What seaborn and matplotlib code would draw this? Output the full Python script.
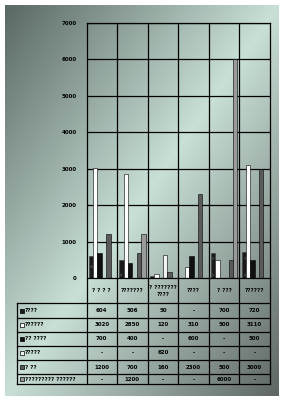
import numpy as np
import pandas as pd
import matplotlib
matplotlib.use("Agg")
import matplotlib.pyplot as plt
import seaborn as sns

# ---- data ----
categories = ["? ? ? ?", "???????", "? ???????\n????", "????", "? ???", "??????"]
series_names = ["????", "??????", "?? ????", "?????", "? ??", "????????? ??????"]
s1 = [604, 506, 50, np.nan, 700, 720]
s2 = [3020, 2850, 120, 310, 500, 3110]
s3 = [700, 400, np.nan, 600, np.nan, 500]
s4 = [np.nan, np.nan, 620, np.nan, np.nan, np.nan]
s5 = [1200, 700, 160, 2300, 500, 3000]
s6 = [np.nan, 1200, np.nan, np.nan, 6000, np.nan]
series_values = [s1, s2, s3, s4, s5, s6]
y_ticks = [0, 1000, 2000, 3000, 4000, 5000, 6000, 7000]

colors = ["#1a1a1a", "#ffffff", "#101010", "#f2f2f2", "#5a5a5a", "#9a9a9a"]

rows = []
for name, vals in zip(series_names, series_values):
    for c, v in zip(categories, vals):
        rows.append({"cat": c, "series": name, "val": v})
df = pd.DataFrame(rows)

W, H = 285, 401
fig = plt.figure(figsize=(W / 100, H / 100), dpi=100)

def fx(x):
    return x / W

def fy(y):
    return 1 - y / H

# ---- background ----
bg = fig.add_axes([0, 0, 1, 1])
bg.set_xlim(0, W)
bg.set_ylim(H, 0)
bg.axis("off")
X0, X1, Y0, Y1 = 5, 279, 5, 396
xx, yy = np.meshgrid(np.linspace(0, 1, 200), np.linspace(0, 1, 280))
t = (xx + yy) / 2
c0 = np.array([90, 104, 99]) / 255
c1 = np.array([200, 224, 214]) / 255
c2 = np.array([94, 102, 99]) / 255
tt = t[..., None]
img = np.where(tt < 0.5, c0 + (c1 - c0) * (tt / 0.5), c1 + (c2 - c1) * ((tt - 0.5) / 0.5))
bg.imshow(img, extent=[X0, X1, Y1, Y0], aspect="auto", interpolation="bilinear")

# ---- main chart ----
L, R, T, B = 86.5, 270, 23, 278
ax = fig.add_axes([fx(L), fy(B), fx(R) - fx(L), fy(T) - fy(B)])
ax.patch.set_alpha(0)
sns.barplot(data=df, x="cat", y="val", hue="series", order=categories,
            hue_order=series_names, palette=colors, saturation=1, width=0.86, gap=0,
            edgecolor="black", linewidth=0.4, errorbar=None, legend=False, ax=ax)
for p in ax.patches:
    if np.allclose(p.get_facecolor()[:3], matplotlib.colors.to_rgb(colors[0])):
        p.set_hatch("..")
        p.set_edgecolor("#3c3c3c")
ax.set_xlim(-0.5, len(categories) - 0.5)
ax.set_ylim(0, 7000)
ax.set_yticks(y_ticks)
ax.set_yticklabels([str(v) for v in y_ticks], fontsize=4, fontweight="bold")
ax.tick_params(axis="y", length=0, pad=7)
ax.set_xticks([])
ax.set_xlabel("")
ax.set_ylabel("")
ax.set_axisbelow(True)
for v in y_ticks[1:]:
    ax.axhline(v, color="black", lw=0.9, zorder=0.5)
for i in range(1, len(categories)):
    ax.axvline(i - 0.5, color="black", lw=0.9, zorder=0.5)
for s in ax.spines.values():
    s.set_color("black")
    s.set_linewidth(0.9)

# ---- table ----
ov = fig.add_axes([0, 0, 1, 1])
ov.set_xlim(0, W)
ov.set_ylim(H, 0)
ov.axis("off")
TL = 17.3
row_lines = [303.3, 317.7, 331.7, 346, 360, 374.3, 384.3]
colw = (R - L) / len(categories)
col_x = [L + i * colw for i in range(len(categories) + 1)]
lk = dict(color="black", lw=0.9)
for x in col_x:
    ov.plot([x, x], [B, row_lines[-1]], **lk)
ov.plot([TL, TL], [row_lines[0], row_lines[-1]], **lk)
for y in row_lines:
    ov.plot([TL, R], [y, y], **lk)
for i, c in enumerate(categories):
    ov.text(L + (i + 0.5) * colw, 291, c, ha="center", va="center", fontsize=4,
            fontweight="bold", linespacing=1.6)
for r, (name, vals) in enumerate(zip(series_names, series_values)):
    yc = (row_lines[r] + row_lines[r + 1]) / 2
    ov.add_patch(plt.Rectangle((19.5, yc - 2), 4, 4, facecolor=colors[r],
                               edgecolor="black", lw=0.5,
                               hatch=".." if r == 0 else None))
    ov.text(25, yc, name, ha="left", va="center", fontsize=4, fontweight="bold")
    for i, v in enumerate(vals):
        txt = "-" if np.isnan(v) else f"{int(v)}"
        ov.text(L + (i + 0.5) * colw, yc, txt, ha="center", va="center",
                fontsize=4, fontweight="bold")

fig.savefig("out.png", dpi=100)
